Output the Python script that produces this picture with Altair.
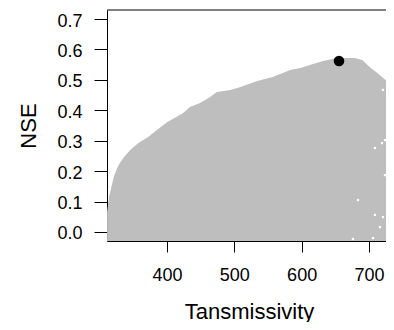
import altair as alt
import pandas as pd

# Upper edge of the grey cloud of parameter sets
edge_t = [311, 314, 318, 321, 326, 330, 336, 345, 357, 372, 385, 400, 424, 434,
          449, 464, 474, 494, 508, 534, 557, 583, 598, 617, 632, 647, 661, 679,
          690, 701, 712, 721, 731, 737]
edge_nse = [0.066, 0.115, 0.154, 0.181, 0.210, 0.227, 0.246, 0.269, 0.292, 0.312,
            0.335, 0.361, 0.391, 0.411, 0.424, 0.444, 0.460, 0.467, 0.476, 0.496,
            0.509, 0.532, 0.539, 0.552, 0.562, 0.569, 0.572, 0.572, 0.565, 0.542,
            0.523, 0.506, 0.490, 0.477]

# Small gaps inside the cloud
gap_t = [720.8, 731.2, 723.8, 708.9, 731.2, 719.3, 731.2, 723.8, 734.2, 683.7,
         708.9, 720.8, 716.3, 728.2, 706.0, 676.2]
gap_nse = [0.467, 0.407, 0.302, 0.276, 0.260, 0.292, 0.230, 0.187, 0.161, 0.105,
           0.056, 0.049, 0.016, 0.007, -0.020, -0.023]

# Best parameter set
best_t = [655.5]
best_nse = [0.562]

x_ticks = [400, 500, 600, 700]
y_ticks = [0.0, 0.1, 0.2, 0.3, 0.4, 0.5, 0.6, 0.7]

edge_df = pd.DataFrame({"T": edge_t, "NSE": edge_nse})
gap_df = pd.DataFrame({"T": gap_t, "NSE": gap_nse})
best_df = pd.DataFrame({"T": best_t, "NSE": best_nse})

FONT = "Liberation Sans"
W, H = 279, 231
xs = alt.Scale(domain=[310.9, 725.3], nice=False, zero=False)
ys = alt.Scale(domain=[-0.0296, 0.7296], nice=False, zero=False)

x_axis = alt.Axis(values=x_ticks, tickCount=20, tickSize=11, labelPadding=14,
                  labelFontSize=18, labelFont=FONT, labelColor="black", titleFont=FONT,
                  titleFontSize=22, titleFontWeight="normal", titleColor="black",
                  titleY=77, titleX=142, titleBaseline="alphabetic", grid=False,
                  domainColor="black", tickColor="black", domainWidth=1, tickWidth=1,
                  labelFlush=False, labelOverlap=False)
y_axis = alt.Axis(values=y_ticks, tickCount=20, format=".1f", tickSize=13,
                  labelPadding=12, labelOffset=2, labelFontSize=18, labelFont=FONT,
                  labelColor="black", titleFont=FONT, titleFontSize=22,
                  titleFontWeight="normal", titleColor="black", titleX=-72,
                  titleY=115.5, titleAngle=270, titleBaseline="alphabetic", grid=False,
                  domainColor="black", tickColor="black", domainWidth=1, tickWidth=1,
                  labelFlush=False, labelOverlap=False)

area = alt.Chart(edge_df).mark_area(color="#bebebe", opacity=1, clip=True).encode(
    x=alt.X("T:Q", scale=xs, axis=x_axis, title="Tansmissivity"),
    y=alt.Y("NSE:Q", scale=ys, axis=y_axis, title="NSE"),
    y2=alt.datum(-0.1),
)

gaps = alt.Chart(gap_df).mark_square(color="white", opacity=1, size=5, clip=True).encode(
    x=alt.X("T:Q", scale=xs), y=alt.Y("NSE:Q", scale=ys)
)

best = alt.Chart(best_df).mark_circle(color="black", opacity=1, size=113).encode(
    x=alt.X("T:Q", scale=xs), y=alt.Y("NSE:Q", scale=ys)
)

top_line = alt.Chart(best_df).mark_rule(color="black", strokeWidth=1).encode(
    x=alt.value(0), x2=alt.value(W), y=alt.value(0)
)

chart = alt.layer(area, gaps, best, top_line).properties(
    width=W, height=H,
    padding={"left": 99, "top": 2, "right": 0, "bottom": 81},
    autosize=alt.AutoSizeParams(type="none"),
).configure_view(stroke=None)

chart.save("out.html", embed_options={"renderer": "svg", "actions": False})
